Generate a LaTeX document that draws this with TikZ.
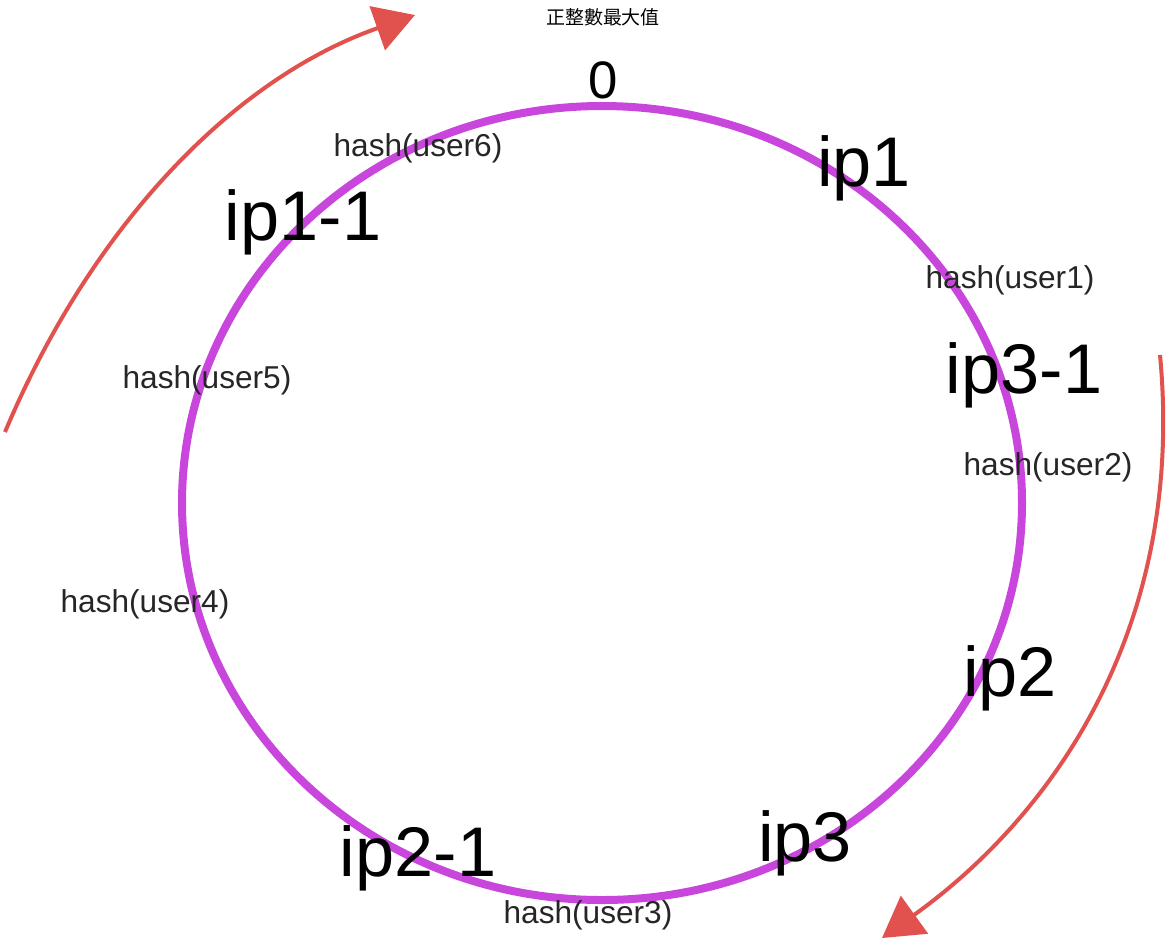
\documentclass[tikz,border=0pt]{standalone}
\usepackage{fontspec}
\setmainfont{Liberation Sans}
\newfontfamily\cjk{Noto Sans CJK TC}
\usetikzlibrary{arrows.meta}
\definecolor{ringcol}{RGB}{200,70,220}
\definecolor{flowcol}{RGB}{225,82,78}
\tikzset{
  ring/.style={draw=ringcol,line width=0.8mm},
  flow/.style={draw=flowcol,line width=0.4mm,-{Triangle[length=4mm,width=4.6mm]}},
  iplabel/.style={font=\fontsize{20}{20}\selectfont,inner sep=0pt},
  hashlabel/.style={font=\fontsize{9}{9}\selectfont,text=black!85,inner sep=0pt},
}
\begin{document}
\begin{tikzpicture}[x=0.1mm,y=-0.1mm]
      \useasboundingbox (0,0) rectangle (1171,948);
      \draw[ring] (602,503) ellipse [x radius=420,y radius=397];
      \draw[flow] (5,432) .. controls (90,230) and (230,80) .. (415,15);
      \draw[flow] (1160,355) .. controls (1185,620) and (1060,810) .. (882,938);
      \node[inner sep=0pt,font=\cjk\fontsize{5.4}{5.4}\selectfont] (maxint) at (603,17) {正整數最大值};
      \node[inner sep=0pt,font=\fontsize{15}{15}\selectfont] (zero) at (603,80) {0};
      \node[iplabel] (ip1) at (864,168) {ip1};
      \node[iplabel] (ip11) at (303,222) {ip1-1};
      \node[iplabel] (ip31) at (1024,375) {ip3-1};
      \node[iplabel] (ip2) at (1010,678) {ip2};
      \node[iplabel] (ip3) at (805,843) {ip3};
      \node[iplabel] (ip21) at (418,858) {ip2-1};
      \node[hashlabel] (u6) at (418,148) {hash(user6)};
      \node[hashlabel] (u1) at (1010,280) {hash(user1)};
      \node[hashlabel] (u2) at (1048,467) {hash(user2)};
      \node[hashlabel] (u5) at (207,380) {hash(user5)};
      \node[hashlabel] (u4) at (145,604) {hash(user4)};
      \node[hashlabel] (u3) at (588,915) {hash(user3)};
    \end{tikzpicture}
\end{document}
